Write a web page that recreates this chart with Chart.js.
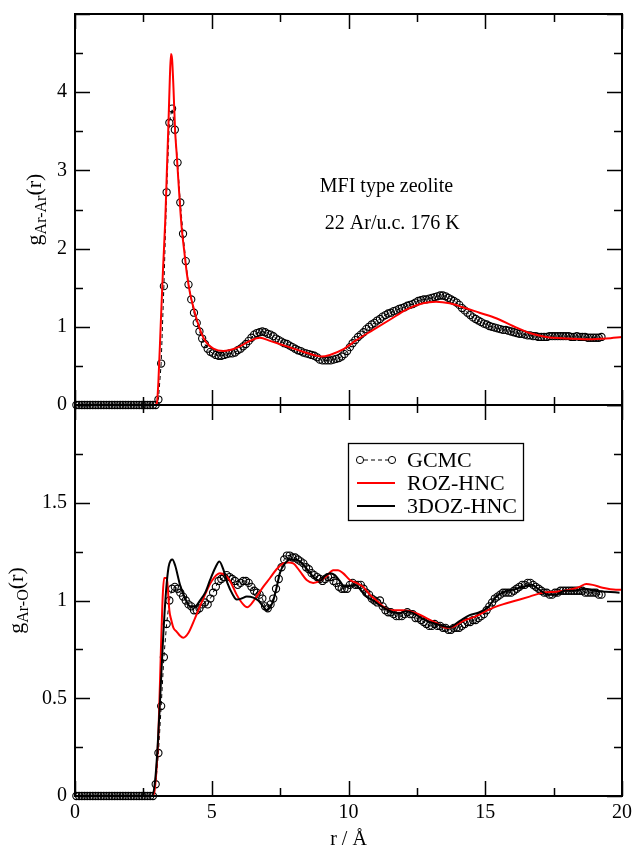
<!DOCTYPE html>
<html>
<head>
<meta charset="utf-8">
<script src="https://cdn.jsdelivr.net/npm/chart.js@4.4.0/dist/chart.umd.min.js"></script>
<style>
  html, body { margin: 0; padding: 0; background: #fff; }
  #wrap { position: relative; width: 636px; height: 850px; }
  #top { position: absolute; left: 0; top: 0; }
  #bottom { position: absolute; left: 0; top: 390px; }
</style>
</head>
<body>
<div id="wrap">
  <canvas id="top" width="636" height="420"></canvas>
  <canvas id="bottom" width="636" height="460"></canvas>
</div>
<script>
// r grid of the GCMC histogram (Å)
var rGcmc = [
  0.05,0.15,0.25,0.35,0.45,0.55,0.65,0.75,0.85,0.95,
  1.05,1.15,1.25,1.35,1.45,1.55,1.65,1.75,1.85,1.95,
  2.05,2.15,2.25,2.35,2.45,2.55,2.65,2.75,2.85,2.95,
  3.05,3.15,3.25,3.35,3.45,3.55,3.65,3.75,3.85,3.95,
  4.05,4.15,4.25,4.35,4.45,4.55,4.65,4.75,4.85,4.95,
  5.05,5.15,5.25,5.35,5.45,5.55,5.65,5.75,5.85,5.95,
  6.05,6.15,6.25,6.35,6.45,6.55,6.65,6.75,6.85,6.95,
  7.05,7.15,7.25,7.35,7.45,7.55,7.65,7.75,7.85,7.95,
  8.05,8.15,8.25,8.35,8.45,8.55,8.65,8.75,8.85,8.95,
  9.05,9.15,9.25,9.35,9.45,9.55,9.65,9.75,9.85,9.95,
  10.05,10.15,10.25,10.35,10.45,10.55,10.65,10.75,10.85,10.95,
  11.05,11.15,11.25,11.35,11.45,11.55,11.65,11.75,11.85,11.95,
  12.05,12.15,12.25,12.35,12.45,12.55,12.65,12.75,12.85,12.95,
  13.05,13.15,13.25,13.35,13.45,13.55,13.65,13.75,13.85,13.95,
  14.05,14.15,14.25,14.35,14.45,14.55,14.65,14.75,14.85,14.95,
  15.05,15.15,15.25,15.35,15.45,15.55,15.65,15.75,15.85,15.95,
  16.05,16.15,16.25,16.35,16.45,16.55,16.65,16.75,16.85,16.95,
  17.05,17.15,17.25,17.35,17.45,17.55,17.65,17.75,17.85,17.95,
  18.05,18.15,18.25,18.35,18.45,18.55,18.65,18.75,18.85,18.95,
  19.05,19.15,19.25
];

// g_Ar-Ar(r), GCMC
var gArArGcmc = [
  0,0,0,0,0,0,0,0,0,0,
  0,0,0,0,0,0,0,0,0,0,
  0,0,0,0,0,0,0,0,0,0,
  0.07,0.53,1.52,2.72,3.61,3.79,3.52,3.10,2.59,2.19,
  1.84,1.54,1.35,1.18,1.05,0.94,0.85,0.78,0.72,0.68,
  0.66,0.64,0.63,0.63,0.64,0.65,0.66,0.66,0.67,0.70,
  0.72,0.75,0.78,0.82,0.86,0.90,0.92,0.93,0.94,0.93,
  0.91,0.90,0.88,0.85,0.83,0.81,0.79,0.78,0.76,0.74,
  0.72,0.70,0.69,0.67,0.66,0.65,0.64,0.63,0.61,0.58,
  0.57,0.57,0.57,0.57,0.58,0.59,0.60,0.62,0.65,0.69,
  0.74,0.79,0.83,0.87,0.90,0.93,0.97,1.00,1.03,1.05,
  1.08,1.10,1.13,1.15,1.17,1.18,1.20,1.21,1.23,1.24,
  1.25,1.27,1.28,1.29,1.31,1.33,1.34,1.35,1.35,1.36,
  1.37,1.38,1.39,1.40,1.40,1.39,1.37,1.35,1.33,1.31,
  1.28,1.24,1.21,1.18,1.15,1.12,1.10,1.08,1.06,1.04,
  1.03,1.01,1.00,0.99,0.98,0.97,0.96,0.96,0.95,0.94,
  0.93,0.92,0.91,0.91,0.90,0.89,0.89,0.88,0.88,0.87,
  0.87,0.87,0.87,0.88,0.88,0.88,0.88,0.88,0.88,0.88,
  0.88,0.87,0.87,0.88,0.87,0.87,0.87,0.86,0.86,0.86,
  0.86,0.86,0.87
];

// g_Ar-O(r), GCMC
var gArOGcmc = [
  0,0,0,0,0,0,0,0,0,0,
  0,0,0,0,0,0,0,0,0,0,
  0,0,0,0,0,0,0,0,0,0.06,
  0.22,0.46,0.71,0.88,1.00,1.06,1.07,1.06,1.04,1.02,
  1.00,0.98,0.97,0.95,0.95,0.96,0.98,0.99,0.98,1.01,
  1.04,1.07,1.10,1.11,1.12,1.13,1.12,1.11,1.10,1.08,
  1.09,1.10,1.10,1.09,1.07,1.05,1.04,1.03,1.01,0.97,
  0.96,0.98,1.01,1.06,1.11,1.17,1.21,1.23,1.23,1.22,
  1.22,1.21,1.20,1.19,1.17,1.16,1.14,1.13,1.12,1.11,
  1.10,1.11,1.12,1.12,1.10,1.09,1.07,1.06,1.06,1.06,
  1.08,1.09,1.08,1.08,1.08,1.06,1.04,1.03,1.01,1.00,
  0.99,1.00,0.97,0.95,0.94,0.94,0.93,0.92,0.92,0.92,
  0.93,0.94,0.93,0.93,0.91,0.91,0.90,0.89,0.88,0.87,
  0.87,0.88,0.87,0.87,0.86,0.86,0.85,0.85,0.86,0.86,
  0.86,0.87,0.88,0.89,0.89,0.90,0.90,0.91,0.92,0.93,
  0.95,0.97,0.99,1.01,1.02,1.03,1.04,1.04,1.04,1.04,
  1.05,1.06,1.07,1.08,1.08,1.09,1.09,1.08,1.07,1.06,
  1.05,1.04,1.04,1.03,1.03,1.04,1.04,1.05,1.05,1.05,
  1.05,1.05,1.05,1.05,1.05,1.05,1.04,1.04,1.04,1.04,
  1.04,1.03,1.03
];

// ROZ-HNC, Ar-Ar
var rRozArAr = [0,2.9,2.99,3.05,3.14,3.22,3.30,3.36,3.42,3.47,3.51,3.55,3.60,3.66,3.72,3.78,3.84,3.90,
  4.00,4.09,4.20,4.33,4.47,4.63,4.80,5.06,5.42,5.91,6.40,6.76,7.13,7.74,8.34,8.83,9.0,9.32,9.80,
  10.29,10.90,11.51,12.12,12.72,13.20,13.70,14.18,14.79,15.40,16.01,16.62,17.23,17.96,18.81,19.42,20.0];
var gRozArAr = [0,0,0.02,0.30,1.08,1.75,2.36,3.00,3.63,4.20,4.49,4.42,4.06,3.51,3.20,2.87,2.55,2.27,
  1.95,1.68,1.44,1.25,1.07,0.91,0.80,0.72,0.69,0.73,0.82,0.86,0.82,0.75,0.68,0.63,0.62,0.64,0.71,
  0.83,0.96,1.09,1.22,1.30,1.32,1.30,1.25,1.18,1.11,1.01,0.92,0.87,0.85,0.84,0.85,0.87];

// ROZ-HNC, Ar-O
var rRozArO = [0,2.85,2.93,3.05,3.14,3.21,3.26,3.36,3.40,3.45,3.52,3.60,3.72,3.84,3.96,4.15,4.39,4.69,
  5.00,5.30,5.49,5.67,5.91,6.15,6.30,6.40,6.64,6.88,7.13,7.37,7.61,7.80,7.98,8.22,8.47,8.71,8.95,
  9.20,9.44,9.62,9.80,10.05,10.29,10.53,10.78,11.02,11.26,11.51,11.99,12.48,12.85,13.21,13.58,13.82,
  14.18,14.67,15.16,15.64,16.13,16.62,17.10,17.59,18.08,18.45,18.69,18.93,19.29,19.78,20.0];
var gRozArO = [0,0,0.05,0.32,0.74,1.03,1.115,1.115,1.05,0.95,0.90,0.86,0.84,0.82,0.81,0.835,0.91,1.01,
  1.10,1.14,1.13,1.10,1.03,0.98,0.965,0.975,1.02,1.07,1.115,1.16,1.19,1.195,1.19,1.15,1.105,1.09,1.10,
  1.125,1.155,1.155,1.14,1.105,1.09,1.07,1.03,1.00,0.97,0.95,0.95,0.935,0.91,0.885,0.86,0.865,
  0.895,0.92,0.955,0.98,1.00,1.02,1.04,1.045,1.055,1.07,1.085,1.08,1.065,1.055,1.055];

// 3DOZ-HNC, Ar-O
var r3dozArO = [0,2.81,2.93,3.02,3.11,3.23,3.33,3.42,3.50,3.56,3.66,3.84,4.03,4.21,4.39,4.57,4.76,4.94,
  5.12,5.28,5.42,5.57,5.77,5.91,6.09,6.28,6.52,6.70,6.88,7.01,7.13,7.25,7.37,7.49,7.68,7.86,8.04,
  8.22,8.40,8.59,8.77,8.95,9.13,9.32,9.50,9.68,9.86,10.05,10.23,10.41,10.65,10.90,11.15,11.39,11.63,
  11.87,12.11,12.36,12.72,13.09,13.45,13.70,14.06,14.43,14.79,15.10,15.40,15.70,16.01,16.37,16.68,
  16.98,17.28,17.59,17.90,18.26,18.63,18.99,19.42,19.91];
var g3dozArO = [0,0,0.08,0.25,0.49,0.83,1.05,1.17,1.205,1.21,1.18,1.08,1.01,0.97,0.97,1.00,1.04,1.105,
  1.165,1.20,1.16,1.09,1.03,1.005,1.01,1.02,1.015,1.00,0.97,0.95,0.965,1.00,1.065,1.14,1.19,1.21,1.21,
  1.20,1.175,1.14,1.115,1.10,1.125,1.14,1.13,1.10,1.07,1.075,1.08,1.06,1.02,1.00,0.975,0.955,0.94,
  0.935,0.945,0.935,0.905,0.885,0.87,0.865,0.895,0.925,0.94,0.965,1.02,1.045,1.055,1.07,1.08,
  1.055,1.03,1.03,1.05,1.05,1.06,1.05,1.045,1.04];

var seriesNames = ['GCMC', 'ROZ-HNC', '3DOZ-HNC'];
var xTickValues = [0, 5, 10, 15, 20];
var noteLines = ['MFI type zeolite', ' 22 Ar/u.c. 176 K'];

var FONT = '"Liberation Serif", "Times New Roman", serif';

function pts(xs, ys) {
  return xs.map(function (x, i) { return { x: x, y: ys[i] }; });
}

function gcmcSet(ys) {
  return {
    label: seriesNames[0], data: pts(rGcmc, ys), order: 3,
    borderColor: '#000', borderWidth: 1, borderDash: [4, 3],
    pointRadius: 3.6, pointBorderWidth: 1.1, pointBorderColor: '#000',
    pointBackgroundColor: 'rgba(0,0,0,0)', clip: 6
  };
}
function curveSet(name, xs, ys, color, ord) {
  return {
    label: name, data: pts(xs, ys), order: ord,
    borderColor: color, borderWidth: 2, pointRadius: 0,
    cubicInterpolationMode: 'monotone'
  };
}

// inward ticks on all four sides + frame
function drawFrame(chart) {
  var ctx = chart.ctx, a = chart.chartArea;
  var xs = chart.scales.x, ys = chart.scales.y;
  var xMaj = xTickValues, xMin = [];
  for (var i = 0; i < xMaj.length - 1; i++) xMin.push((xMaj[i] + xMaj[i + 1]) / 2);
  var yMaj = ys.ticks.map(function (t) { return t.value; }), yMin = [];
  for (var j = 0; j < yMaj.length - 1; j++) yMin.push((yMaj[j] + yMaj[j + 1]) / 2);

  ctx.save();
  ctx.strokeStyle = '#000';
  ctx.lineWidth = 1.5;
  ctx.beginPath();
  function xt(v, len) {
    var p = Math.round(xs.getPixelForValue(v)) + 0.5;
    ctx.moveTo(p, a.top); ctx.lineTo(p, a.top + len);
    ctx.moveTo(p, a.bottom); ctx.lineTo(p, a.bottom - len);
  }
  function yt(v, len) {
    var p = Math.round(ys.getPixelForValue(v)) + 0.5;
    ctx.moveTo(a.left, p); ctx.lineTo(a.left + len, p);
    ctx.moveTo(a.right, p); ctx.lineTo(a.right - len, p);
  }
  xMaj.forEach(function (v) { xt(v, 15); });
  xMin.forEach(function (v) { xt(v, 8); });
  yMaj.forEach(function (v) { yt(v, 15); });
  yMin.forEach(function (v) { yt(v, 8); });
  ctx.stroke();
  ctx.lineWidth = 2;
  ctx.strokeRect(a.left, a.top, a.right - a.left, a.bottom - a.top);
  ctx.restore();
}

function drawYTitle(chart, main, sub, tail, baseX) {
  var ctx = chart.ctx, a = chart.chartArea;
  var fMain = '22px ' + FONT, fSub = '16px ' + FONT;
  ctx.save();
  ctx.translate(baseX, (a.top + a.bottom) / 2);
  ctx.rotate(-Math.PI / 2);
  ctx.fillStyle = '#000';
  ctx.textBaseline = 'alphabetic';
  ctx.textAlign = 'left';
  ctx.font = fMain;
  var w1 = ctx.measureText(main).width, w3 = ctx.measureText(tail).width;
  ctx.font = fSub;
  var w2 = ctx.measureText(sub).width;
  var x = -(w1 + w2 + w3) / 2;
  ctx.font = fMain; ctx.fillText(main, x, 0); x += w1;
  ctx.font = fSub; ctx.fillText(sub, x, 5); x += w2;
  ctx.font = fMain; ctx.fillText(tail, x, 0);
  ctx.restore();
}

function baseOptions(yMax, yStep, showX, xHeight) {
  return {
    responsive: false,
    animation: false,
    devicePixelRatio: 1,
    layout: { padding: { left: 0, right: 14, top: showX ? 15 : 14, bottom: 0 } },
    plugins: { legend: { display: false }, tooltip: { enabled: false } },
    scales: {
      x: {
        type: 'linear', min: 0, max: 20,
        grid: { display: false, drawTicks: false },
        border: { display: false },
        ticks: {
          display: showX, stepSize: 5, padding: 5, color: '#000',
          font: { family: FONT, size: 20 }
        },
        afterFit: function (s) { s.height = xHeight; s.paddingLeft = 0; s.paddingRight = 0; }
      },
      y: {
        min: 0, max: yMax,
        grid: { display: false, drawTicks: false },
        border: { display: false },
        ticks: {
          stepSize: yStep, padding: 8, color: '#000',
          font: { family: FONT, size: 20 },
          callback: function (v) { return v >= yMax ? '' : String(v); }
        },
        afterFit: function (s) { s.width = 75; s.paddingTop = 0; s.paddingBottom = 0; }
      }
    }
  };
}

// ---- top panel: Ar-Ar ----
var topOpts = baseOptions(5, 1, false, 15);
new Chart(document.getElementById('top'), {
  type: 'line',
  data: {
    datasets: [
      gcmcSet(gArArGcmc),
      curveSet(seriesNames[1], rRozArAr, gRozArAr, '#ff0000', 1)
    ]
  },
  options: topOpts,
  plugins: [{
    id: 'topDecor',
    afterDraw: function (chart) {
      drawFrame(chart);
      drawYTitle(chart, 'g', 'Ar-Ar', '(r)', 41);
      var ctx = chart.ctx, xs = chart.scales.x, ys = chart.scales.y;
      ctx.save();
      ctx.fillStyle = '#000';
      ctx.font = '20px ' + FONT;
      ctx.textBaseline = 'alphabetic';
      ctx.fillText(noteLines[0], xs.getPixelForValue(8.95), ys.getPixelForValue(2.72));
      ctx.fillText(noteLines[1], xs.getPixelForValue(8.95), ys.getPixelForValue(2.25));
      ctx.restore();
    }
  }]
});

// ---- bottom panel: Ar-O ----
var botOpts = baseOptions(2, 0.5, true, 54);
new Chart(document.getElementById('bottom'), {
  type: 'line',
  data: {
    datasets: [
      gcmcSet(gArOGcmc),
      curveSet(seriesNames[1], rRozArO, gRozArO, '#ff0000', 2),
      curveSet(seriesNames[2], r3dozArO, g3dozArO, '#000000', 1)
    ]
  },
  options: botOpts,
  plugins: [{
    id: 'bottomDecor',
    afterDraw: function (chart) {
      drawFrame(chart);
      drawYTitle(chart, 'g', 'Ar-O', '(r)', 23);
      var ctx = chart.ctx, a = chart.chartArea;
      ctx.save();
      ctx.fillStyle = '#000';
      // x title
      ctx.font = '20px ' + FONT;
      ctx.textAlign = 'center';
      ctx.textBaseline = 'alphabetic';
      ctx.fillText('r / Å', (a.left + a.right) / 2, 455);
      // legend box
      ctx.strokeStyle = '#000';
      ctx.lineWidth = 1.3;
      ctx.strokeRect(348.5, 53.5, 175, 77);
      ctx.font = '22px ' + FONT;
      ctx.textAlign = 'left';
      ctx.textBaseline = 'middle';
      var rows = [70, 93, 116];
      chart.data.datasets.forEach(function (ds, i) {
        var y = rows[i];
        ctx.beginPath();
        ctx.strokeStyle = ds.borderColor;
        ctx.lineWidth = ds.borderWidth;
        ctx.setLineDash(ds.borderDash || []);
        ctx.moveTo(357, y); ctx.lineTo(395, y);
        ctx.stroke();
        ctx.setLineDash([]);
        if (ds.pointRadius) {
          ctx.fillStyle = '#fff';
          [360, 392].forEach(function (cx) {
            ctx.beginPath();
            ctx.arc(cx, y, ds.pointRadius, 0, Math.PI * 2);
            ctx.fill();
            ctx.lineWidth = 1;
            ctx.stroke();
          });
        }
        ctx.fillStyle = '#000';
        ctx.fillText(ds.label, 407, y + 1);
      });
      ctx.restore();
    }
  }]
});
</script>
</body>
</html>
